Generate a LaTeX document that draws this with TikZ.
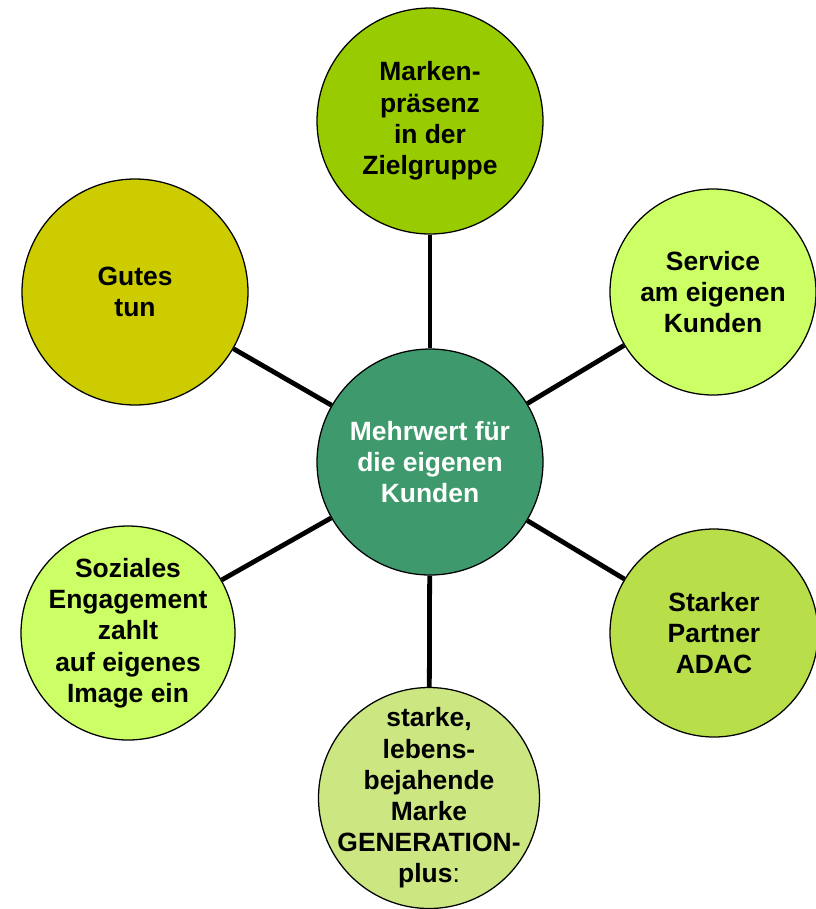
\documentclass[tikz,border=0pt]{standalone}
\usepackage{fontspec}
\setmainfont{Liberation Sans}
\usepackage{tikz}
\usetikzlibrary{positioning}
\newdimen\pdim
\pdim=0.025cm
\definecolor{olivegreen}{HTML}{99CC00}
\definecolor{palegreen}{HTML}{CCFF66}
\definecolor{mustard}{HTML}{CCCC00}
\definecolor{grasslight}{HTML}{B8DE4A}
\definecolor{grasspale}{HTML}{CCE681}
\definecolor{seagreen}{HTML}{3E9A6C}
\tikzstyle{bubble}=[
  circle,
  draw=black,
  line width=0.9pt,
  inner sep=-40pt,
  align=center,
  font={\bfseries\fontsize{18.8}{22.2}\selectfont},
]
\tikzstyle{link}=[
  draw=black,
  line width=3.4pt,
]
\begin{document}
\begin{tikzpicture}[x=\pdim,y=-\pdim]
      \useasboundingbox (0,0) rectangle (816,909);
      \node (hub) [bubble, minimum size=226\pdim, fill=seagreen, text=white] at (430,462)
        {Mehrwert für\\die eigenen\\Kunden};
      %%
      \node (praesenz) [bubble, minimum size=226\pdim, fill=olivegreen] at (430,121)
        {Marken-\\präsenz\\in der\\Zielgruppe};
      \node (service) [bubble, minimum size=206\pdim, fill=palegreen] at (713,292)
        {Service\\am eigenen\\Kunden};
      \node (partner) [bubble, minimum size=208\pdim, fill=grasslight] at (714,633)
        {Starker\\Partner\\ADAC};
      \node (marke) [bubble, minimum size=221\pdim, fill=grasspale] at (429,798)
        {starke,\\lebens-\\bejahende\\Marke\\GENERATION-\\plus\textmd{:}};
      \node (sozial) [bubble, minimum size=214\pdim, fill=palegreen] at (128,633)
        {Soziales\\Engagement\\zahlt\\auf eigenes\\Image ein};
      \node (gutes) [bubble, minimum size=226\pdim, fill=mustard] at (135,292)
        {Gutes\\tun};
      %%
      \foreach \n in {praesenz,service,partner,marke,sozial,gutes}
        \draw [link] (hub) -- (\n);
    \end{tikzpicture}
\end{document}
